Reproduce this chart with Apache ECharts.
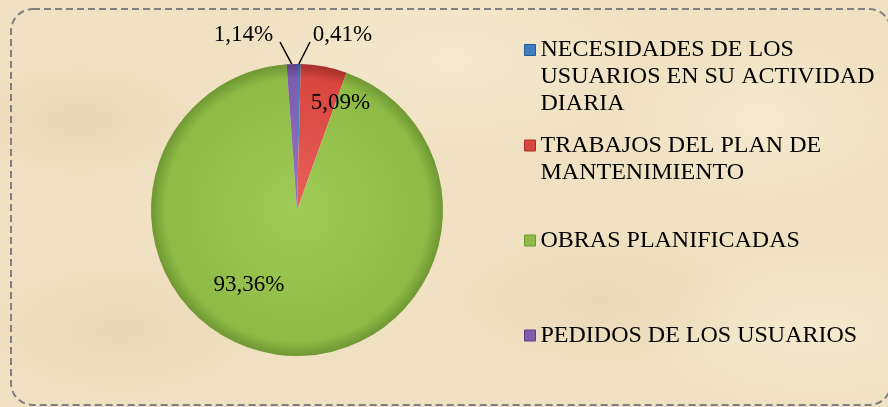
<!DOCTYPE html>
<html>
<head>
<meta charset="utf-8">
<script src="https://cdn.jsdelivr.net/npm/echarts@6/dist/echarts.min.js"></script>
<style>
  html, body { margin: 0; padding: 0; background: #ffffff; }
  #chart {
    width: 888px; height: 407px;
    background:
      radial-gradient(ellipse 120px 60px at 80px 120px, rgba(214,190,150,0.30), rgba(214,190,150,0) 100%),
      radial-gradient(ellipse 160px 70px at 600px 300px, rgba(215,192,152,0.25), rgba(215,192,152,0) 100%),
      radial-gradient(ellipse 140px 80px at 760px 120px, rgba(252,242,222,0.50), rgba(252,242,222,0) 100%),
      radial-gradient(ellipse 200px 90px at 450px 60px, rgba(252,242,222,0.45), rgba(252,242,222,0) 100%),
      radial-gradient(ellipse 150px 70px at 120px 330px, rgba(212,188,148,0.25), rgba(212,188,148,0) 100%),
      radial-gradient(ellipse 180px 80px at 820px 330px, rgba(250,240,218,0.50), rgba(250,240,218,0) 100%),
      #F0E1C2;
  }
</style>
</head>
<body>
<div id="chart"></div>
<script>
// ---- data ----
const categories = [
  'NECESIDADES DE LOS USUARIOS EN SU ACTIVIDAD DIARIA',
  'TRABAJOS DEL PLAN DE MANTENIMIENTO',
  'OBRAS PLANIFICADAS',
  'PEDIDOS DE LOS USUARIOS'
];
const legendText = [
  'NECESIDADES DE LOS\nUSUARIOS EN SU ACTIVIDAD\nDIARIA',
  'TRABAJOS DEL PLAN DE\nMANTENIMIENTO',
  'OBRAS PLANIFICADAS',
  'PEDIDOS DE LOS USUARIOS'
];
const values = [0.41, 5.09, 93.36, 1.14];

// ---- styling ----
const FONT = '"Liberation Serif", "Times New Roman", serif';
const CX = 297, CY = 210, R = 146;
const baseColors = ['#3F7CC2', '#D9463F', '#8EBB45', '#7D5CAE'];
const lightColors = ['#5B95D6', '#E8625B', '#9FCB58', '#9478C4'];
const darkColors = ['#2A5C96', '#A8302B', '#6F9733', '#5B3F88'];
// label anchor offsets from pie center (pixels), leader line end offsets
const labelOffsets = [[45.5, -175.5], [43.5, -107], [-48, 74.7], [-53.5, -175.5]];
const leaderEnds = [[13, -168], null, null, [-17, -168]];
// legend first-line center y
const legendY = [50, 145.5, 240.5, 335.5];
const LINE_H = 27;

const total = values.reduce((a, b) => a + b, 0);
const midAngles = [];
let acc = 0;
values.forEach(v => { midAngles.push((acc + v / 2) / total * 2 * Math.PI); acc += v; });

function fmt(v) { return v.toFixed(2).replace('.', ',') + '%'; }

const pieData = categories.map((name, i) => ({
  name: name,
  value: values[i],
  itemStyle: {
    color: {
      type: 'radial', x: CX, y: CY, r: R, global: true,
      colorStops: [
        { offset: 0, color: lightColors[i] },
        { offset: 0.9, color: baseColors[i] },
        { offset: 1, color: darkColors[i] }
      ]
    }
  },
  labelLine: { show: leaderEnds[i] !== null }
}));

const legends = categories.map((name, i) => {
  const n = legendText[i].split('\n').length;
  // leading blank lines keep the marker aligned with the first text line
  const txt = '\n'.repeat(n - 1) + legendText[i];
  return {
    data: [{ name: name, icon: 'rect', itemStyle: { color: baseColors[i], borderColor: darkColors[i], borderWidth: 1 } }],
    orient: 'vertical',
    left: 524,
    top: legendY[i] - (2 * n - 1) * LINE_H / 2,
    padding: 0,
    itemWidth: 11,
    itemHeight: 11,
    itemGap: 0,
    selectedMode: false,
    formatter: () => txt,
    textStyle: { fontFamily: FONT, fontSize: 24, color: '#000', lineHeight: LINE_H }
  };
});

const chart = echarts.init(document.getElementById('chart'), null, { renderer: 'canvas' });
chart.setOption({
  backgroundColor: 'transparent',
  animation: false,
  graphic: [{
    type: 'rect',
    shape: { x: 11, y: 9, width: 880, height: 396, r: 22 },
    style: { fill: 'none', stroke: '#808080', lineWidth: 2, lineDash: [7, 4] },
    silent: true, z: 10
  }],
  legend: legends,
  series: [{
    type: 'pie',
    center: [CX, CY],
    radius: R,
    startAngle: 90,
    clockwise: true,
    avoidLabelOverlap: false,
    data: pieData,
    label: {
      show: true,
      position: 'outside',
      formatter: p => fmt(p.value),
      fontFamily: FONT, fontSize: 23, color: '#000'
    },
    labelLine: { show: true, length: 10, length2: 0, lineStyle: { color: '#000', width: 1.5 } },
    labelLayout: function (params) {
      const i = params.dataIndex;
      const off = labelOffsets[i];
      const res = { x: CX + off[0], y: CY + off[1], align: 'center', verticalAlign: 'middle' };
      if (leaderEnds[i]) {
        const a = midAngles[i];
        const sx = CX + R * Math.sin(a), sy = CY - R * Math.cos(a);
        const ex = CX + leaderEnds[i][0], ey = CY + leaderEnds[i][1];
        res.labelLinePoints = [[sx, sy], [ex, ey], [ex, ey]];
      }
      return res;
    }
  }]
});
</script>
</body>
</html>
